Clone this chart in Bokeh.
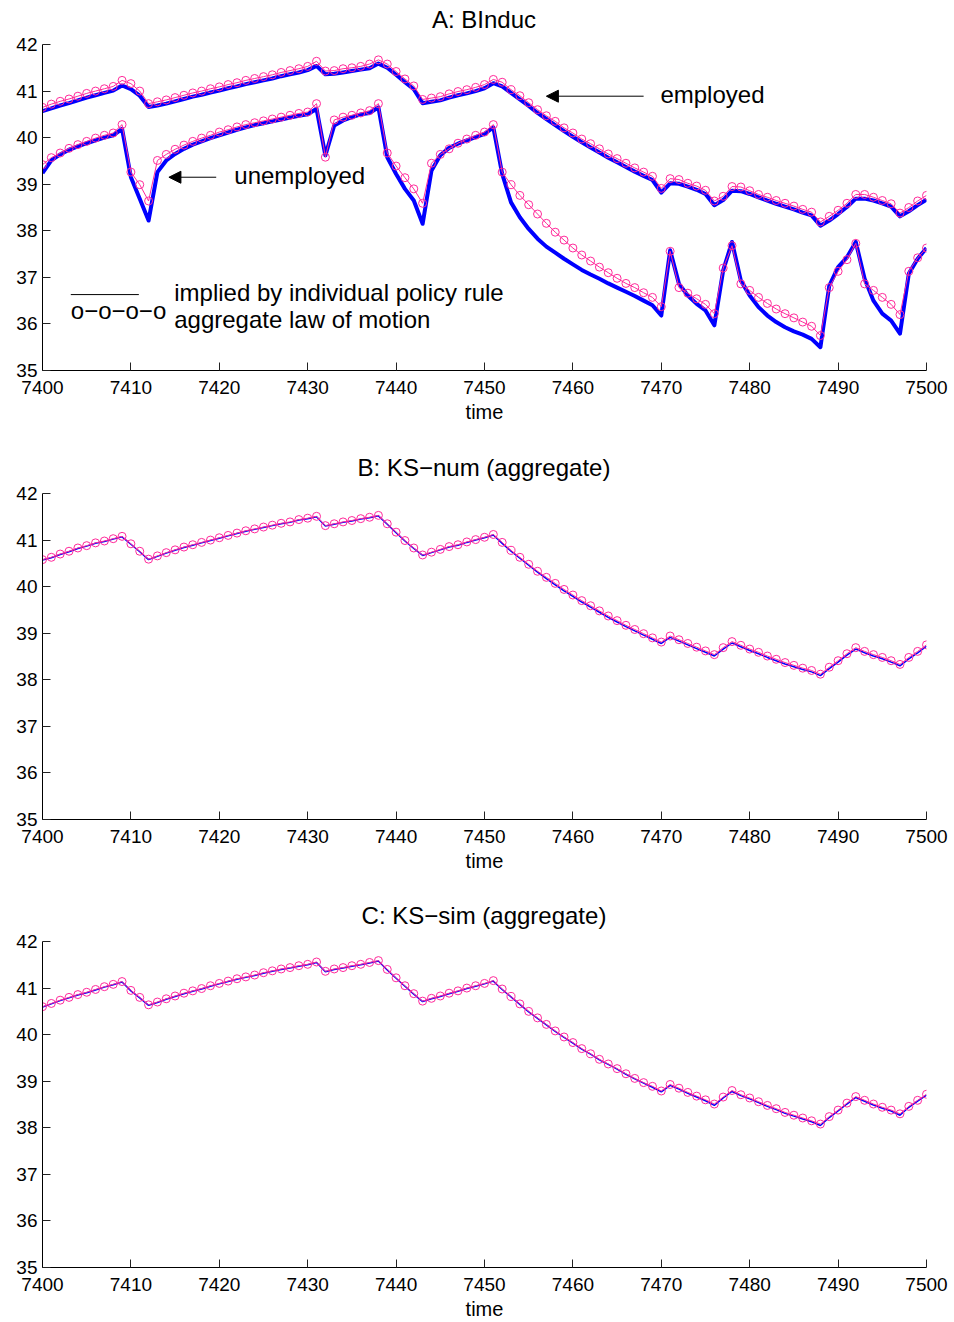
from bokeh.plotting import figure
from bokeh.layouts import column
from bokeh.models import Arrow, NormalHead, Label, FixedTicker, Range1d, Div
from bokeh.embed import file_html
from bokeh.resources import INLINE

time = list(range(7400, 7501))
x_ticks = list(range(7400, 7501, 10))
y_ticks = [35, 36, 37, 38, 39, 40, 41, 42]

# Panel A: employed, aggregate law of motion (circles)
emp_agg = [
    40.65, 40.72, 40.78, 40.83, 40.89, 40.95, 41.00, 41.05, 41.10, 41.23,
    41.16, 41.00, 40.73, 40.77, 40.81, 40.86, 40.91, 40.96, 41.00, 41.05,
    41.09, 41.14, 41.18, 41.23, 41.27, 41.31, 41.35, 41.40, 41.44, 41.48,
    41.53, 41.64, 41.43, 41.44, 41.48, 41.50, 41.53, 41.58, 41.67, 41.58,
    41.42, 41.26, 41.11, 40.82, 40.85, 40.88, 40.94, 40.99, 41.03, 41.08,
    41.14, 41.25, 41.19, 41.03, 40.90, 40.75, 40.60, 40.47, 40.35, 40.21,
    40.10, 39.97, 39.87, 39.76, 39.65, 39.55, 39.45, 39.35, 39.26, 39.17,
    38.91, 39.12, 39.10, 39.02, 38.96, 38.87, 38.64, 38.74, 38.95, 38.94,
    38.86, 38.78, 38.72, 38.65, 38.59, 38.53, 38.46, 38.40, 38.19, 38.31,
    38.44, 38.59, 38.78, 38.78, 38.72, 38.65, 38.58, 38.38, 38.50, 38.64,
    38.76,
]
# Panel A: employed, implied by individual policy rule (thick line)
emp_ind = [
    40.57, 40.63, 40.69, 40.74, 40.80, 40.86, 40.91, 40.96, 41.01, 41.12,
    41.04, 40.90, 40.66, 40.69, 40.73, 40.78, 40.83, 40.88, 40.92, 40.97,
    41.01, 41.06, 41.10, 41.15, 41.19, 41.23, 41.27, 41.32, 41.36, 41.40,
    41.45, 41.54, 41.36, 41.37, 41.40, 41.43, 41.46, 41.49, 41.59, 41.50,
    41.35, 41.19, 41.04, 40.74, 40.77, 40.80, 40.86, 40.91, 40.95, 41.00,
    41.06, 41.17, 41.10, 40.96, 40.82, 40.68, 40.53, 40.40, 40.27, 40.14,
    40.02, 39.90, 39.79, 39.68, 39.57, 39.47, 39.37, 39.27, 39.18, 39.09,
    38.82, 39.02, 39.01, 38.95, 38.88, 38.79, 38.55, 38.66, 38.86, 38.85,
    38.79, 38.72, 38.65, 38.58, 38.52, 38.46, 38.39, 38.33, 38.11, 38.22,
    38.36, 38.51, 38.69, 38.69, 38.65, 38.59, 38.52, 38.31, 38.42, 38.55,
    38.67,
]
# Panel A: unemployed, aggregate law of motion
unemp_agg = [
    39.42, 39.57, 39.67, 39.77, 39.85, 39.92, 39.99, 40.05, 40.10, 40.28,
    39.26, 38.99, 38.64, 39.51, 39.64, 39.75, 39.84, 39.92, 39.99, 40.05,
    40.12, 40.17, 40.23, 40.28, 40.32, 40.36, 40.40, 40.44, 40.48, 40.52,
    40.55, 40.73, 39.58, 40.38, 40.44, 40.48, 40.53, 40.58, 40.73, 39.67,
    39.39, 39.14, 38.90, 38.59, 39.45, 39.64, 39.76, 39.88, 39.97, 40.05,
    40.12, 40.28, 39.26, 38.99, 38.76, 38.56, 38.36, 38.16, 37.97, 37.80,
    37.63, 37.48, 37.35, 37.22, 37.10, 36.98, 36.87, 36.78, 36.67, 36.57,
    36.37, 37.56, 36.78, 36.66, 36.54, 36.42, 36.22, 37.20, 37.68, 36.86,
    36.72, 36.57, 36.44, 36.32, 36.22, 36.13, 36.04, 35.95, 35.75, 36.78,
    37.13, 37.38, 37.73, 36.86, 36.72, 36.57, 36.42, 36.20, 37.13, 37.42,
    37.63,
]
# Panel A: unemployed, implied by individual policy rule
unemp_ind = [
    39.24, 39.51, 39.64, 39.74, 39.81, 39.88, 39.94, 40.00, 40.05, 40.19,
    39.15, 38.69, 38.22, 39.26, 39.51, 39.65, 39.76, 39.85, 39.92, 39.99,
    40.05, 40.11, 40.17, 40.22, 40.27, 40.31, 40.35, 40.39, 40.43, 40.47,
    40.50, 40.62, 39.62, 40.26, 40.37, 40.44, 40.50, 40.53, 40.65, 39.58,
    39.22, 38.90, 38.65, 38.15, 39.29, 39.62, 39.78, 39.87, 39.94, 40.01,
    40.08, 40.22, 39.22, 38.61, 38.29, 38.04, 37.83, 37.66, 37.53, 37.40,
    37.28, 37.16, 37.06, 36.97, 36.87, 36.78, 36.69, 36.60, 36.50, 36.40,
    36.18, 37.58, 36.86, 36.61, 36.43, 36.29, 35.97, 37.15, 37.76, 36.93,
    36.61, 36.36, 36.18, 36.04, 35.93, 35.84, 35.77, 35.68, 35.50, 36.82,
    37.22, 37.43, 37.76, 36.97, 36.50, 36.22, 36.07, 35.79, 37.08, 37.40,
    37.63,
]
# Panel B: KS-num aggregate
ksnum_agg = [
    40.58, 40.63, 40.70, 40.76, 40.83, 40.88, 40.94, 40.98, 41.03, 41.08,
    40.92, 40.76, 40.59, 40.66, 40.73, 40.79, 40.85, 40.90, 40.95, 41.00,
    41.05, 41.10, 41.15, 41.20, 41.24, 41.28, 41.32, 41.36, 41.39, 41.44,
    41.47, 41.51, 41.31, 41.35, 41.39, 41.42, 41.46, 41.49, 41.53, 41.35,
    41.17, 40.99, 40.83, 40.68, 40.74, 40.80, 40.86, 40.90, 40.96, 41.01,
    41.06, 41.12, 40.95, 40.78, 40.63, 40.48, 40.33, 40.20, 40.07, 39.94,
    39.82, 39.70, 39.59, 39.48, 39.37, 39.27, 39.17, 39.08, 38.99, 38.90,
    38.81, 38.94, 38.86, 38.78, 38.70, 38.62, 38.54, 38.69, 38.82, 38.74,
    38.66, 38.59, 38.51, 38.44, 38.37, 38.31, 38.25, 38.20, 38.12, 38.27,
    38.41, 38.56, 38.69, 38.61, 38.54, 38.48, 38.41, 38.33, 38.48, 38.61,
    38.75,
]
ksnum_ind = [
    40.57, 40.62, 40.69, 40.75, 40.82, 40.87, 40.93, 40.97, 41.02, 41.07,
    40.91, 40.75, 40.58, 40.65, 40.72, 40.78, 40.84, 40.89, 40.94, 40.99,
    41.04, 41.09, 41.14, 41.19, 41.23, 41.27, 41.31, 41.35, 41.38, 41.43,
    41.46, 41.50, 41.30, 41.34, 41.38, 41.41, 41.45, 41.48, 41.52, 41.34,
    41.16, 40.98, 40.82, 40.67, 40.73, 40.79, 40.85, 40.89, 40.95, 41.00,
    41.05, 41.11, 40.93, 40.76, 40.61, 40.46, 40.31, 40.17, 40.04, 39.91,
    39.79, 39.67, 39.56, 39.45, 39.34, 39.24, 39.14, 39.05, 38.96, 38.87,
    38.78, 38.91, 38.83, 38.75, 38.67, 38.59, 38.51, 38.66, 38.79, 38.71,
    38.63, 38.56, 38.48, 38.41, 38.34, 38.28, 38.22, 38.17, 38.09, 38.24,
    38.38, 38.53, 38.66, 38.58, 38.51, 38.45, 38.38, 38.30, 38.45, 38.58,
    38.72,
]
# Panel C: KS-sim aggregate
kssim_agg = [
    40.60, 40.67, 40.74, 40.80, 40.86, 40.91, 40.97, 41.03, 41.08, 41.14,
    40.95, 40.80, 40.64, 40.70, 40.77, 40.83, 40.89, 40.94, 40.99, 41.05,
    41.10, 41.15, 41.20, 41.24, 41.28, 41.33, 41.37, 41.41, 41.44, 41.48,
    41.51, 41.56, 41.36, 41.41, 41.44, 41.48, 41.51, 41.55, 41.59, 41.40,
    41.22, 41.05, 40.88, 40.72, 40.78, 40.83, 40.89, 40.94, 41.00, 41.05,
    41.10, 41.16, 40.98, 40.82, 40.66, 40.50, 40.36, 40.22, 40.08, 39.95,
    39.83, 39.70, 39.59, 39.47, 39.37, 39.27, 39.16, 39.06, 38.97, 38.89,
    38.79, 38.93, 38.85, 38.76, 38.68, 38.60, 38.51, 38.66, 38.80, 38.71,
    38.64, 38.56, 38.48, 38.41, 38.33, 38.27, 38.21, 38.15, 38.08, 38.24,
    38.38, 38.53, 38.67, 38.59, 38.51, 38.44, 38.38, 38.30, 38.46, 38.59,
    38.72,
]
kssim_ind = [
    40.59, 40.66, 40.73, 40.79, 40.85, 40.90, 40.96, 41.02, 41.07, 41.13,
    40.94, 40.79, 40.63, 40.69, 40.76, 40.82, 40.88, 40.93, 40.98, 41.04,
    41.09, 41.14, 41.19, 41.23, 41.27, 41.32, 41.36, 41.40, 41.43, 41.47,
    41.50, 41.55, 41.35, 41.40, 41.43, 41.47, 41.50, 41.54, 41.58, 41.39,
    41.21, 41.04, 40.87, 40.71, 40.77, 40.82, 40.88, 40.93, 40.99, 41.04,
    41.09, 41.15, 40.97, 40.81, 40.65, 40.49, 40.35, 40.21, 40.07, 39.94,
    39.82, 39.69, 39.58, 39.46, 39.36, 39.26, 39.15, 39.05, 38.96, 38.87,
    38.77, 38.91, 38.83, 38.74, 38.66, 38.58, 38.48, 38.64, 38.78, 38.69,
    38.62, 38.54, 38.46, 38.39, 38.31, 38.25, 38.19, 38.13, 38.05, 38.22,
    38.36, 38.51, 38.65, 38.57, 38.49, 38.42, 38.36, 38.27, 38.44, 38.57,
    38.70,
]

titles = ["A: BInduc", "B: KS\u2212num (aggregate)", "C: KS\u2212sim (aggregate)"]

FONT = "Liberation Sans"
BLUE = "#0000FF"
MAG = "#FF2A9A"


def make_title(text):
    return Div(text=text, width=954, height=32, margin=0,
               styles={"font-family": FONT, "font-size": "24px", "line-height": "40px",
                       "text-align": "center", "color": "black",
                       "padding-left": "14px", "box-sizing": "border-box",
                       "white-space": "nowrap", "overflow": "visible"})


def make_fig(height, top, bottom):
    p = figure(width=954, height=height, output_backend="svg", toolbar_location=None,
               x_range=Range1d(7400, 7500), y_range=Range1d(35, 42),
               min_border_left=42, min_border_right=28,
               min_border_top=top, min_border_bottom=bottom)
    p.outline_line_color = None
    p.background_fill_color = "white"
    p.border_fill_color = None
    p.grid.visible = False
    for ax in (p.xaxis[0], p.yaxis[0]):
        ax.axis_line_color = "black"
        ax.major_tick_in = 8
        ax.major_tick_out = 0
        ax.minor_tick_line_color = None
        ax.major_tick_line_color = "#222222"
        ax.major_label_text_font = FONT
        ax.major_label_text_font_size = "19px"
        ax.major_label_text_color = "black"
    p.yaxis.major_label_standoff = 5
    p.xaxis.major_label_standoff = 10
    p.xaxis.ticker = FixedTicker(ticks=x_ticks)
    p.yaxis.ticker = FixedTicker(ticks=y_ticks)
    p.xaxis.axis_label = "time"
    p.xaxis.axis_label_text_font = FONT
    p.xaxis.axis_label_text_font_size = "20px"
    p.xaxis.axis_label_text_font_style = "normal"
    p.xaxis.axis_label_text_color = "black"
    p.xaxis.axis_label_standoff = 4
    return p


def label(p, x, y, text):
    p.add_layout(Label(x=x, y=y, text=text, text_font=FONT, text_font_size="24px",
                       text_color="black", text_baseline="alphabetic"))


# Panel A
pa = make_fig(416, 12, 78)
pa.line(time, emp_ind, line_color=BLUE, line_width=4, line_join="round")
pa.line(time, unemp_ind, line_color=BLUE, line_width=4, line_join="round")
for series in (emp_agg, unemp_agg):
    pa.line(time, series, line_color=MAG, line_width=1)
    pa.scatter(time, series, marker="circle", size=8, fill_color=None,
               line_color=MAG, line_width=1)

pa.add_layout(Arrow(end=NormalHead(size=12, fill_color="black", line_color="black"),
                    x_start=7468.0, y_start=40.89, x_end=7457.0, y_end=40.89,
                    line_color="black", line_width=1))
label(pa, 7469.9, 40.92, "employed")
pa.add_layout(Arrow(end=NormalHead(size=12, fill_color="black", line_color="black"),
                    x_start=7419.65, y_start=39.15, x_end=7414.3, y_end=39.15,
                    line_color="black", line_width=1))
label(pa, 7421.7, 39.19, "unemployed")
# legend
pa.line([7403.2, 7410.9], [36.63, 36.63], line_color="black", line_width=1)
label(pa, 7403.2, 36.29, "o\u2212o\u2212o\u2212o")
label(pa, 7414.9, 36.68, "implied by individual policy rule")
label(pa, 7414.9, 36.10, "aggregate law of motion")

# Panel B
pb = make_fig(416, 13, 77)
pb.line(time, ksnum_ind, line_color=BLUE, line_width=1.5)
pb.line(time, ksnum_agg, line_color=MAG, line_width=1)
pb.scatter(time, ksnum_agg, marker="circle", size=8, fill_color=None, line_color=MAG, line_width=1)

# Panel C
pc = make_fig(394, 13, 55)
pc.line(time, kssim_ind, line_color=BLUE, line_width=1.5)
pc.line(time, kssim_agg, line_color=MAG, line_width=1)
pc.scatter(time, kssim_agg, marker="circle", size=8, fill_color=None, line_color=MAG, line_width=1)

layout = column(make_title(titles[0]), pa, make_title(titles[1]), pb,
                make_title(titles[2]), pc, spacing=0)
open("out.html", "w").write(file_html(layout, INLINE))
